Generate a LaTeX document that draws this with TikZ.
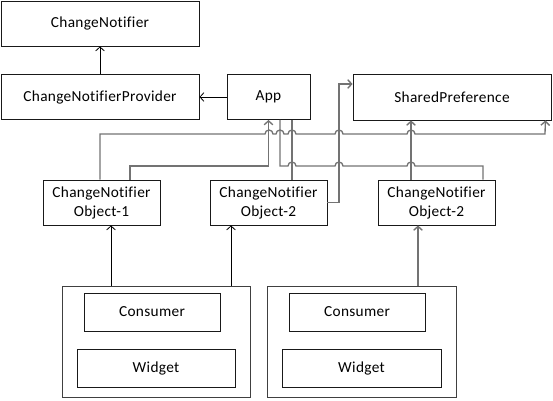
\documentclass[tikz,border=0pt]{standalone}
\usepackage{fontspec}
\setmainfont{Carlito}[Ligatures=NoCommon,LetterSpace=2]
\usetikzlibrary{arrows.meta,calc}
\begin{document}
\begin{tikzpicture}[x=0.75pt,y=-0.75pt,
 box/.style={draw=black!90,line width=0.6pt,inner sep=0pt,align=center,font=\fontsize{11.5}{14.25}\selectfont},
 grp/.style={draw=black!75,line width=0.75pt,inner sep=0pt},
 conn/.style={draw=black!55,line width=1pt},
 blk/.style={draw=black,line width=0.6pt},
 tip/.style={-{Straight Barb[length=3pt,width=6.5pt]}}
]
\useasboundingbox (0,0) rectangle (553,400);
% boxes
\node[box,minimum width=148.5pt,minimum height=33.75pt] (cn) at (100,23.5) {ChangeNotifier};
\node[box,minimum width=148.5pt,minimum height=33.75pt] (cnp) at (100,97) {ChangeNotifierProvider};
\node[box,minimum width=62.25pt,minimum height=33.75pt] (app) at (268.5,97) {App};
\node[box,minimum width=148.5pt,minimum height=34.5pt] (sp) at (452,97) {SharedPreference};
\node[box,minimum width=87.75pt,minimum height=33.75pt] (o1) at (101.5,202.5) {ChangeNotifier\\Object-1};
\node[box,minimum width=87.75pt,minimum height=33.75pt] (o2a) at (268.5,202.5) {ChangeNotifier\\Object-2};
\node[box,minimum width=87.75pt,minimum height=33.75pt] (o2b) at (436.5,202.5) {ChangeNotifier\\Object-2};
\node[grp,minimum width=141pt,minimum height=83.25pt] (g1) at (156,341.5) {};
\node[grp,minimum width=141.75pt,minimum height=83.25pt] (g2) at (361.5,341.5) {};
\node[box,minimum width=102pt,minimum height=28.5pt] (c1) at (152,312) {Consumer};
\node[box,minimum width=118.5pt,minimum height=28.5pt] (w1) at (156,368) {Widget};
\node[box,minimum width=102pt,minimum height=28.5pt] (c2) at (357,312) {Consumer};
\node[box,minimum width=119.25pt,minimum height=28.5pt] (w2) at (361.5,368) {Widget};
% helper coordinates
\coordinate (spb) at ($(sp.south east)+(-6,0)$);
\coordinate (b1) at ($(g1.north)+(-45,0)$);
\coordinate (b2) at ($(g1.north)+(75,0)$);
\coordinate (b3) at ($(g2.north)+(56.5,0)$);
% black connectors
\draw[blk,tip] (cnp.north) -- (cn.south);
\draw[blk,tip] (app.west) -- (cnp.east);
\draw[blk,tip] (b1) -- (b1 |- o1.south);
\draw[blk,tip] (b2) -- (b2 |- o2a.south);
\draw[conn,tip] (b3) -- (b3 |- o2b.south);
% gray connectors
\draw[conn,tip] ($(o1.north)+(-1.5,0)$) |- (265,134)
  arc[start angle=180,end angle=0,radius=3pt] -- (276,134)
  arc[start angle=180,end angle=0,radius=3pt] -- (288,134)
  arc[start angle=180,end angle=0,radius=3pt] -- (335,134)
  arc[start angle=180,end angle=0,radius=3pt] -- (407,134)
  arc[start angle=180,end angle=0,radius=3pt] -- (545,134) -- (spb);
\draw[conn,tip] ($(o1.north)+(28.5,0)$) |- (268.5,166) -- (app.south);
\draw[conn] ($(app.south)+(11.5,0)$) |- (288,166)
  arc[start angle=180,end angle=0,radius=3pt] -- (335,166)
  arc[start angle=180,end angle=0,radius=3pt] -- (407,166)
  arc[start angle=180,end angle=0,radius=3pt] -- (483,166) -- ($(o2b.north)+(46.5,0)$);
\draw[conn] ($(app.south)+(23.5,0)$) -- ($(o2a.north)+(23.5,0)$);
\draw[conn,tip] (o2a.east) -- (339,202.5) |- ($(sp.west)+(0,-13)$);
\draw[conn,tip] ($(o2b.north)+(-25.5,0)$) -- ($(sp.south)+(-41,0)$);
\end{tikzpicture}
\end{document}
